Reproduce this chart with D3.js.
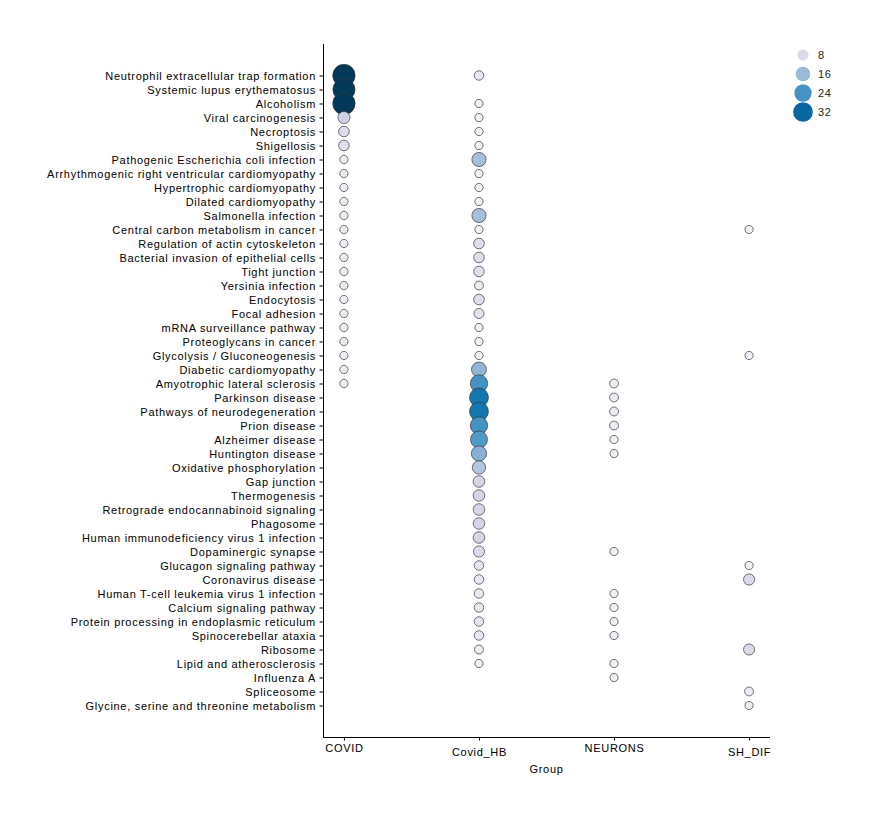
<!DOCTYPE html>
<html>
<head>
<meta charset="utf-8">
<script src="https://cdn.jsdelivr.net/npm/d3@7"></script>
<style>
  body { margin: 0; background: #fff; }
  svg { font-family: "Liberation Sans", Arial, sans-serif; }
  svg text { letter-spacing: 0.7px; }
</style>
</head>
<body>
<svg id="chart" width="883" height="820"></svg>
<script>
// pathways, top to bottom
var pathways = [
  'Neutrophil extracellular trap formation',
  'Systemic lupus erythematosus',
  'Alcoholism',
  'Viral carcinogenesis',
  'Necroptosis',
  'Shigellosis',
  'Pathogenic Escherichia coli infection',
  'Arrhythmogenic right ventricular cardiomyopathy',
  'Hypertrophic cardiomyopathy',
  'Dilated cardiomyopathy',
  'Salmonella infection',
  'Central carbon metabolism in cancer',
  'Regulation of actin cytoskeleton',
  'Bacterial invasion of epithelial cells',
  'Tight junction',
  'Yersinia infection',
  'Endocytosis',
  'Focal adhesion',
  'mRNA surveillance pathway',
  'Proteoglycans in cancer',
  'Glycolysis / Gluconeogenesis',
  'Diabetic cardiomyopathy',
  'Amyotrophic lateral sclerosis',
  'Parkinson disease',
  'Pathways of neurodegeneration',
  'Prion disease',
  'Alzheimer disease',
  'Huntington disease',
  'Oxidative phosphorylation',
  'Gap junction',
  'Thermogenesis',
  'Retrograde endocannabinoid signaling',
  'Phagosome',
  'Human immunodeficiency virus 1 infection',
  'Dopaminergic synapse',
  'Glucagon signaling pathway',
  'Coronavirus disease',
  'Human T-cell leukemia virus 1 infection',
  'Calcium signaling pathway',
  'Protein processing in endoplasmic reticulum',
  'Spinocerebellar ataxia',
  'Ribosome',
  'Lipid and atherosclerosis',
  'Influenza A',
  'Spliceosome',
  'Glycine, serine and threonine metabolism'
];

var groups = ['COVID', 'Covid_HB', 'NEURONS', 'SH_DIF'];

// gene counts per group, same order as pathways (null = not enriched)
var covid = [42, 41, 42, 10, 7, 7, 3, 3, 3, 3, 3, 3, 3, 3, 3, 3, 3, 3, 3, 3, 3, 3, 3,
  null, null, null, null, null, null, null, null, null, null, null, null,
  null, null, null, null, null, null, null, null, null, null, null];
var covidHB = [5, null, 3, 3, 3, 3, 15, 3, 3, 3, 15, 3, 7, 7, 7, 4, 7, 6, 3, 3, 3, 17,
  24, 29, 29, 24, 23, 18, 13, 9, 9, 9, 9, 9, 8, 5, 5, 5, 5, 5, 5, 4, 3,
  null, null, null];
var neurons = [null, null, null, null, null, null, null, null, null, null, null,
  null, null, null, null, null, null, null, null, null, null, null,
  4, 4, 4, 4, 3, 3, null, null, null, null, null, null, 3, null, null,
  3, 3, 3, 3, null, 3, 3, null, null];
var shDif = [null, null, null, null, null, null, null, null, null, null, null,
  3, null, null, null, null, null, null, null, null, 3, null,
  null, null, null, null, null, null, null, null, null, null, null, null,
  null, 3, 8, null, null, null, null, 8, null, null, 4, 3];

var legendValues = [8, 16, 24, 32];

// layout
var plotLeft = 323, plotRight = 770, plotTop = 44, plotBottom = 737;

var svg = d3.select('#chart');

var x = d3.scalePoint()
  .domain(groups)
  .range([plotLeft, plotRight])
  .padding(0.155);

var y = d3.scalePoint()
  .domain(pathways)
  .range([plotTop, plotBottom])
  .padding(2.25);

var area = d3.scaleLinear().domain([3, 42]).range([17, 125]);
function radius(v) { return Math.sqrt(area(v)); }
var color = d3.scaleSequential(d3.interpolatePuBu).domain([0, 40]).clamp(true);

// flatten into points
var series = [covid, covidHB, neurons, shDif];
var points = [];
series.forEach(function(vals, gi) {
  vals.forEach(function(v, pi) {
    if (v !== null) points.push({ group: groups[gi], pathway: pathways[pi], value: v });
  });
});

// axes
var yAxis = svg.append('g')
  .attr('transform', 'translate(' + plotLeft + ',0)')
  .call(d3.axisLeft(y).tickSize(3.5).tickPadding(3.5).tickSizeOuter(0));
yAxis.select('.domain').attr('d', 'M0.5,' + plotTop + 'V' + plotBottom);
yAxis.selectAll('text').attr('font-size', 11).attr('fill', '#000');

var xAxis = svg.append('g')
  .attr('transform', 'translate(0,' + plotBottom + ')')
  .call(d3.axisBottom(x).tickSize(3.5).tickPadding(4).tickSizeOuter(0));
xAxis.select('.domain').attr('d', 'M' + plotLeft + ',0.5H' + plotRight);
xAxis.selectAll('text')
  .attr('font-size', 11)
  .attr('fill', '#000')
  .attr('dy', function(d) { return d.indexOf('_') >= 0 ? '1.0em' : '0.72em'; });

svg.append('text')
  .attr('x', (plotLeft + plotRight) / 2)
  .attr('y', 773)
  .attr('text-anchor', 'middle')
  .attr('font-size', 11)
  .text('Group');

// dots
svg.append('g').selectAll('circle')
  .data(points)
  .enter().append('circle')
  .attr('cx', function(d) { return x(d.group); })
  .attr('cy', function(d) { return y(d.pathway); })
  .attr('r', function(d) { return radius(d.value); })
  .attr('fill', function(d) { return color(d.value); })
  .attr('stroke', '#3a3a3a')
  .attr('stroke-width', 0.7);

// legend
var legend = svg.append('g').attr('transform', 'translate(803,55)');
var item = legend.selectAll('g')
  .data(legendValues)
  .enter().append('g')
  .attr('transform', function(d, i) { return 'translate(0,' + (i * 19) + ')'; });
item.append('circle')
  .attr('r', function(d) { return radius(d); })
  .attr('fill', function(d) { return color(d); });
item.append('text')
  .attr('x', 15)
  .attr('dy', '0.35em')
  .attr('font-size', 11)
  .attr('fill', '#222')
  .text(function(d) { return d; });
</script>
</body>
</html>
